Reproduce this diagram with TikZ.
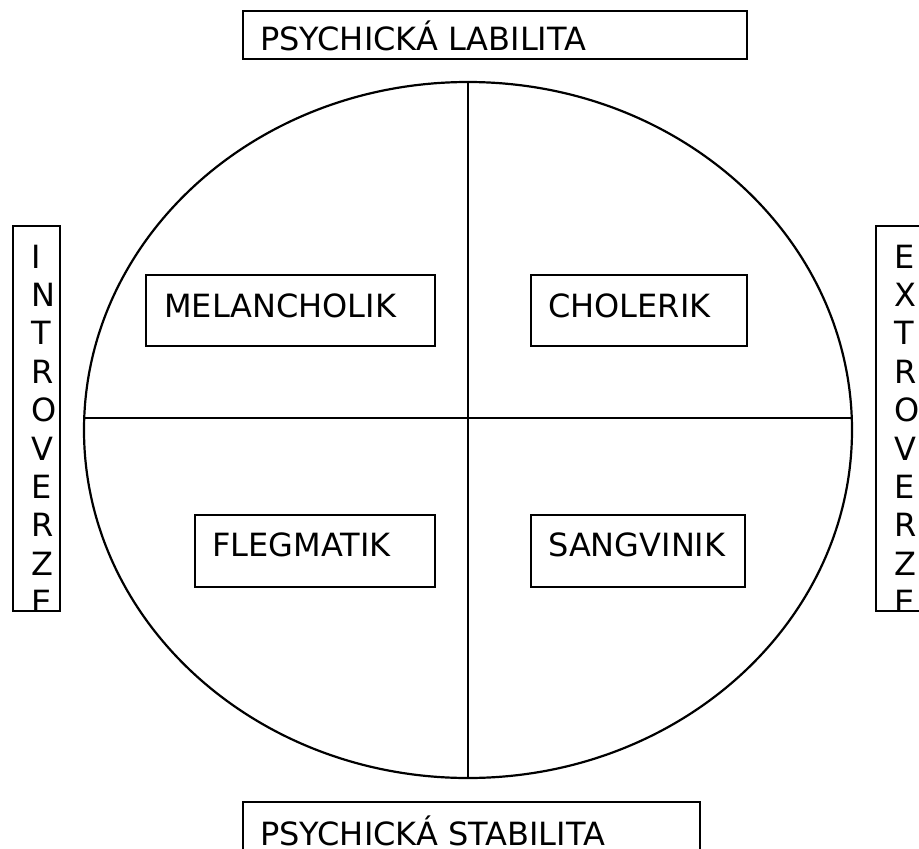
\documentclass[tikz,border=0pt]{standalone}
\usepackage{fontspec}
\setmainfont{DejaVu Sans}
\usetikzlibrary{shapes.geometric}
\tikzset{
  box/.style={draw=black, line width=2.4pt, rectangle, inner sep=0pt, anchor=north west},
  lbl/.style={inner sep=0pt, anchor=base west, font=\fontsize{32}{38.4}\selectfont},
  axis/.style={draw=black, line width=2.2pt},
}
\begin{document}
\begin{tikzpicture}[x=1pt, y=-1pt]
\useasboundingbox (0,0) rectangle (919,849);
\clip (0,0) rectangle (919,849);
\fill[white] (0,0) rectangle (919,849);

% oval and cross
\node[ellipse, draw=black, line width=2.2pt, inner sep=0pt,
      minimum width=768pt, minimum height=696pt] (oval) at (468,430) {};
\coordinate (hl) at (84.2,418);
\coordinate (hr) at (851.8,418);
\draw[axis] (oval.north) -- (oval.south);
\draw[axis] (hl) -- (hr);

% top and bottom titles
\node[box, minimum width=504pt, minimum height=47.5pt] (lab) at (242,10) {};
\node[lbl] (labt) at (260,50) {PSYCHICKÁ LABILITA};
\node[box, minimum width=457pt, minimum height=80pt] (stab) at (242,801) {};
\node[lbl] (stabt) at (260,845) {PSYCHICKÁ STABILITA};

% inner boxes
\node[box, minimum width=289pt, minimum height=71pt] (mel) at (145,274) {};
\node[lbl] (melt) at (164,317) {MELANCHOLIK};
\node[box, minimum width=216pt, minimum height=71pt] (cho) at (530,274) {};
\node[lbl] (chot) at (548,317) {CHOLERIK};
\node[box, minimum width=240pt, minimum height=72pt] (fle) at (194,514) {};
\node[lbl] (flet) at (212,556) {FLEGMATIK};
\node[box, minimum width=214pt, minimum height=72pt] (san) at (530,514) {};
\node[lbl] (sant) at (548,556) {SANGVINIK};

% side boxes
\node[box, minimum width=47pt, minimum height=385pt] (intro) at (12,225) {};
\begin{scope}
\clip (12,225) rectangle (59,610);
\node[lbl] (introt) at (31,268) {\parbox[t]{30pt}{\raggedright I\\N\\T\\R\\O\\V\\E\\R\\Z\\E}};
\end{scope}
\node[box, minimum width=80pt, minimum height=385pt] (extro) at (875,225) {};
\begin{scope}
\clip (875,225) rectangle (955,610);
\node[lbl] (extrot) at (894,268) {\parbox[t]{30pt}{\raggedright E\\X\\T\\R\\O\\V\\E\\R\\Z\\E}};
\end{scope}
\end{tikzpicture}
\end{document}
